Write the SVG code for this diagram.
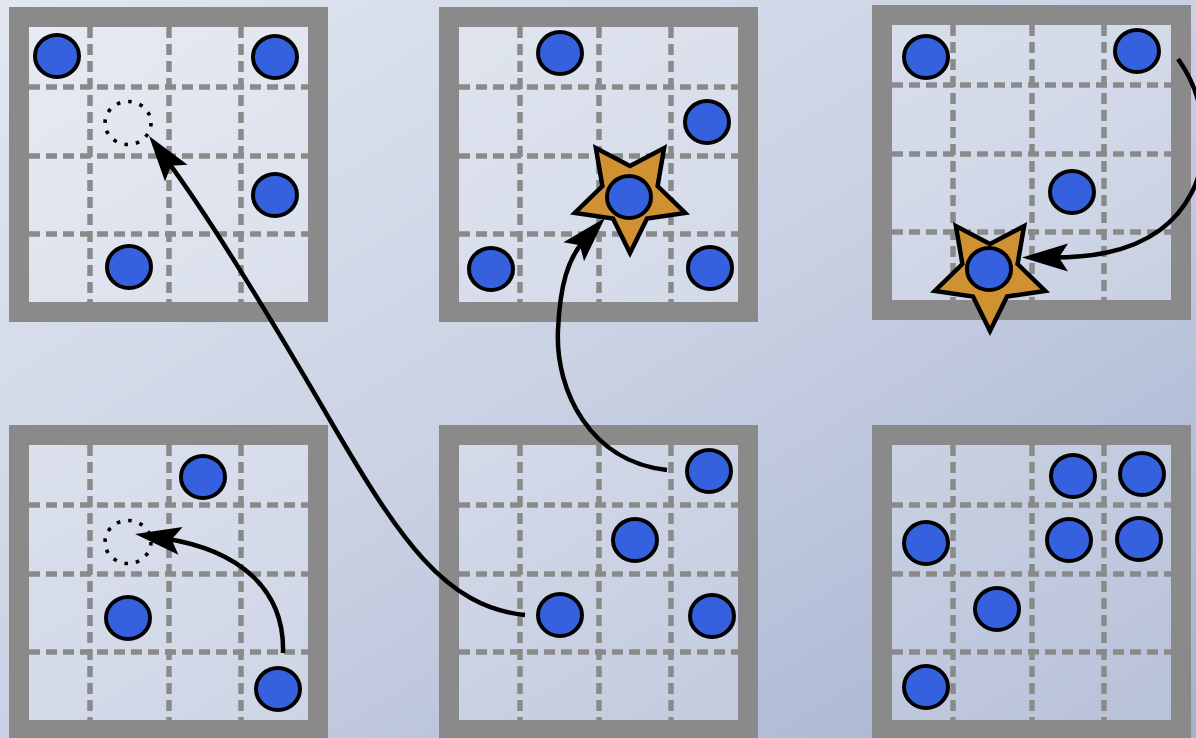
<svg xmlns="http://www.w3.org/2000/svg" xmlns:xlink="http://www.w3.org/1999/xlink" width="1196" height="738" viewBox="0 0 1196 738">
  <defs>
    <linearGradient id="bg" x1="0" y1="0" x2="1" y2="1">
      <stop offset="0" stop-color="#e2e7f0"/>
      <stop offset="0.5" stop-color="#c9d1e3"/>
      <stop offset="1" stop-color="#a5b1cf"/>
    </linearGradient>
    <path id="star" d="M0,58 L-17,23.5 L-55.2,17.9 L-27.6,-9 L-34.1,-46.9 L0,-29 L34.1,-46.9 L27.6,-9 L55.2,17.9 L17,23.5 Z"/>
    <marker id="arrow" markerUnits="userSpaceOnUse" markerWidth="10" markerHeight="10" refX="0" refY="0" orient="auto" overflow="visible">
      <path d="M30,0 L-16,-14 L-7,0 L-16,14 Z" fill="#000"/>
    </marker>
    <g id="board">
      <rect x="10" y="10" width="299" height="295" fill="#ffffff" fill-opacity="0.2"/>
      <g stroke="#8a8a8a" stroke-width="5.5" stroke-dasharray="11 6" fill="none">
        <path d="M81,20 V295 M160,20 V295 M232,20 V295 M20,80 H299 M20,149 H299 M20,227 H299"/>
      </g>
      <rect x="10" y="10" width="299" height="295" fill="none" stroke="#8a8a8a" stroke-width="20"/>
    </g>
  </defs>
  <style>
    .tok { fill: #3561df; stroke: #000; stroke-width: 4; }
    .ghost { fill: none; stroke: #000; stroke-width: 3.6; stroke-dasharray: 3.6 8; }
    .star { fill: #cf9132; stroke: #000; stroke-width: 4.5; stroke-linejoin: miter; stroke-miterlimit: 10; }
    .conn { fill: none; stroke: #000; stroke-width: 4.5; marker-end: url(#arrow); }
  </style>

  <rect x="0" y="0" width="1196" height="738" fill="url(#bg)"/>

  <g id="panel1" transform="translate(9,7)">
    <use xlink:href="#board"/>
    <ellipse id="p1-t1" class="tok" cx="48" cy="49" rx="22" ry="21"/>
    <ellipse id="p1-t2" class="tok" cx="266" cy="50" rx="22" ry="21"/>
    <ellipse id="p1-t3" class="tok" cx="266" cy="188" rx="22" ry="21"/>
    <ellipse id="p1-t4" class="tok" cx="120" cy="260" rx="22" ry="21"/>
    <ellipse id="p1-ghost" class="ghost" cx="119" cy="116" rx="23" ry="21.5"/>
  </g>

  <g id="panel2" transform="translate(439,7)">
    <use xlink:href="#board"/>
    <ellipse id="p2-t1" class="tok" cx="121" cy="46" rx="22" ry="21"/>
    <ellipse id="p2-t2" class="tok" cx="268" cy="115" rx="22" ry="21"/>
    <ellipse id="p2-t3" class="tok" cx="52" cy="262" rx="22" ry="21"/>
    <ellipse id="p2-t4" class="tok" cx="271" cy="261" rx="22" ry="21"/>
    <g id="p2-target">
      <use xlink:href="#star" class="star" transform="translate(191,188)"/>
      <ellipse class="tok" cx="190" cy="190" rx="22" ry="21"/>
    </g>
  </g>

  <g id="panel3" transform="translate(872,5)">
    <use xlink:href="#board"/>
    <ellipse id="p3-t1" class="tok" cx="54" cy="52" rx="22" ry="21"/>
    <ellipse id="p3-t2" class="tok" cx="265" cy="46" rx="22" ry="21"/>
    <ellipse id="p3-t3" class="tok" cx="200" cy="187" rx="22" ry="21"/>
    <g id="p3-target">
      <use xlink:href="#star" class="star" transform="translate(118,268)"/>
      <ellipse class="tok" cx="117" cy="264" rx="22" ry="21"/>
    </g>
  </g>

  <g id="panel4" transform="translate(9,425)">
    <use xlink:href="#board"/>
    <ellipse id="p4-t1" class="tok" cx="194" cy="52" rx="22" ry="21"/>
    <ellipse id="p4-t2" class="tok" cx="119" cy="193" rx="22" ry="21"/>
    <ellipse id="p4-t3" class="tok" cx="269" cy="264" rx="22" ry="21"/>
    <ellipse id="p4-ghost" class="ghost" cx="119" cy="117" rx="23" ry="21.5"/>
  </g>

  <g id="panel5" transform="translate(439,425)">
    <use xlink:href="#board"/>
    <ellipse id="p5-t1" class="tok" cx="270" cy="46" rx="22" ry="21"/>
    <ellipse id="p5-t2" class="tok" cx="196" cy="115" rx="22" ry="21"/>
    <ellipse id="p5-t3" class="tok" cx="121" cy="190" rx="22" ry="21"/>
    <ellipse id="p5-t4" class="tok" cx="273" cy="191" rx="22" ry="21"/>
  </g>

  <g id="panel6" transform="translate(872,425)">
    <use xlink:href="#board"/>
    <ellipse id="p6-t1" class="tok" cx="201" cy="51" rx="22" ry="21"/>
    <ellipse id="p6-t2" class="tok" cx="270" cy="49" rx="22" ry="21"/>
    <ellipse id="p6-t3" class="tok" cx="54" cy="118" rx="22" ry="21"/>
    <ellipse id="p6-t4" class="tok" cx="197" cy="115" rx="22" ry="21"/>
    <ellipse id="p6-t5" class="tok" cx="267" cy="114" rx="22" ry="21"/>
    <ellipse id="p6-t6" class="tok" cx="125" cy="184" rx="22" ry="21"/>
    <ellipse id="p6-t7" class="tok" cx="54" cy="262" rx="22" ry="21"/>
  </g>

  <g id="connectors">
    <path class="conn" d="M525,615 C445,607 400,540 330,420 C262,303 205,212 166.8,160.2"/>
    <path class="conn" d="M667,470 C590,462 555,390 558,330 C560,285 568,258 584.6,240"/>
    <path class="conn" d="M1178,59 C1215,110 1215,190 1160,230 C1127,254 1085,257.5 1052,257.5"/>
    <path class="conn" d="M283,653 C285,590 240,550 164.7,538.5"/>
  </g>
</svg>
